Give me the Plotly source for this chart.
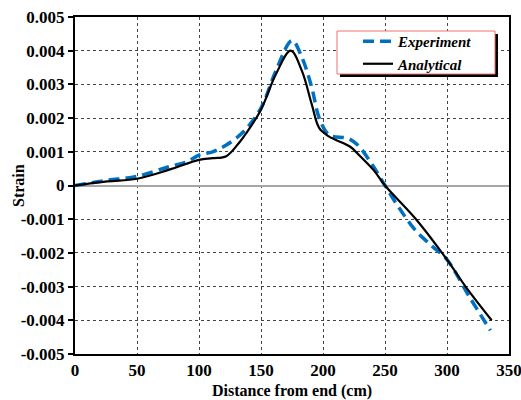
import plotly.graph_objects as go

# Data
exp_x = [0, 25, 50, 75, 90, 100, 111, 122, 136, 150, 162, 175, 183, 191, 197, 205,
         220, 228, 240, 250, 262, 275, 288, 300, 318, 335]
exp_y = [0, 0.00015, 0.00027, 0.00055, 0.0007, 0.0009, 0.001, 0.0012, 0.0016, 0.0023,
         0.0034, 0.0043, 0.0038, 0.0029, 0.002, 0.0015, 0.0014, 0.0012, 0.0006, 0,
         -0.0007, -0.00135, -0.0018, -0.0022, -0.0033, -0.0043]

ana_x = [0, 26, 50, 76, 100, 111, 122, 133, 138, 150, 162, 174, 183, 191, 197, 205,
         222, 230, 241, 250, 275, 300, 315, 336]
ana_y = [0, 0.00012, 0.0002, 0.00047, 0.00076, 0.00081, 0.00087, 0.0013, 0.00155,
         0.00225, 0.0033, 0.004, 0.0034, 0.0024, 0.0017, 0.00145, 0.00115, 0.00087,
         0.00045, 0, -0.001, -0.0022, -0.003, -0.004]

x_ticks = [0, 50, 100, 150, 200, 250, 300, 350]
y_ticks = [0.005, 0.004, 0.003, 0.002, 0.001, 0, -0.001, -0.002, -0.003, -0.004, -0.005]
y_labels = ["0.005", "0.004", "0.003", "0.002", "0.001", "0",
            "-0.001", "-0.002", "-0.003", "-0.004", "-0.005"]

FONT = "Liberation Serif"

fig = go.Figure()
fig.add_trace(go.Scatter(
    x=exp_x, y=exp_y, mode="lines", name="<b><i>Experiment</i></b>",
    line=dict(color="#0070C0", width=3.5, dash="11px,6px", shape="spline", smoothing=1.0),
))
fig.add_trace(go.Scatter(
    x=ana_x, y=ana_y, mode="lines", name="<b><i>Analytical</i></b>",
    line=dict(color="black", width=2.2, shape="spline", smoothing=1.0),
))

L, R, T, B = 75, 12, 17, 46
W, H = 521, 400
pw, ph = W - L - R, H - T - B

def px2paper(px, py):
    return (px - L) / pw, (H - B - py) / ph

# legend shadow and frame
sx0, sy0 = px2paper(340, 34)
sx1, sy1 = px2paper(498, 77)
fig.add_shape(type="rect", xref="paper", yref="paper", x0=sx0, x1=sx1, y0=sy1, y1=sy0,
              fillcolor="black", line=dict(width=0), layer="above")
bx0, by0 = px2paper(337, 31)
bx1, by1 = px2paper(495, 74)
fig.add_shape(type="rect", xref="paper", yref="paper", x0=bx0, x1=bx1, y0=by1, y1=by0,
              fillcolor="white", line=dict(width=1, color="#F07070"), layer="above")

lx, ly = px2paper(358, 25)

# y-axis title as rotated annotation
tx, ty = px2paper(18, 186)
fig.add_annotation(x=tx, y=ty, xref="paper", yref="paper", text="<b>Strain</b>",
                   textangle=-90, showarrow=False, xanchor="center", yanchor="middle",
                   font=dict(family=FONT, size=16, color="black"))

fig.update_layout(
    width=W, height=H,
    margin=dict(l=L, r=R, t=T, b=B),
    paper_bgcolor="white", plot_bgcolor="white",
    font=dict(family=FONT, color="black", size=16),
    showlegend=True,
    legend=dict(
        x=lx, y=ly, xanchor="left", yanchor="top",
        bgcolor="rgba(0,0,0,0)", borderwidth=0,
        font=dict(family=FONT, size=15, color="black"),
        tracegroupgap=0, itemwidth=30,
    ),
    xaxis=dict(
        range=[0, 350], tickvals=x_ticks, ticks="", showline=True, linewidth=2,
        linecolor="black", mirror=True, showgrid=True, gridcolor="#444",
        griddash="dot", gridwidth=1, zeroline=False, automargin=False,
        ticklabeloverflow="allow",
        tickfont=dict(family=FONT, size=17, color="black", weight="bold"),
        title=dict(text="<b>Distance from end (cm)</b>", font=dict(family=FONT, size=16), standoff=12),
    ),
    yaxis=dict(
        range=[-0.005, 0.005], tickvals=y_ticks, ticktext=y_labels, ticks="outside",
        ticklen=5, tickwidth=1.5, tickcolor="black", showline=True, linewidth=2,
        linecolor="black", mirror=True, showgrid=True, gridcolor="#444",
        griddash="dot", gridwidth=1, zeroline=True, zerolinecolor="#A6A6A6",
        zerolinewidth=2, automargin=False, ticklabeloverflow="allow",
        tickfont=dict(family=FONT, size=17, color="black", weight="bold"),
    ),
)

fig.write_html("out.html")
